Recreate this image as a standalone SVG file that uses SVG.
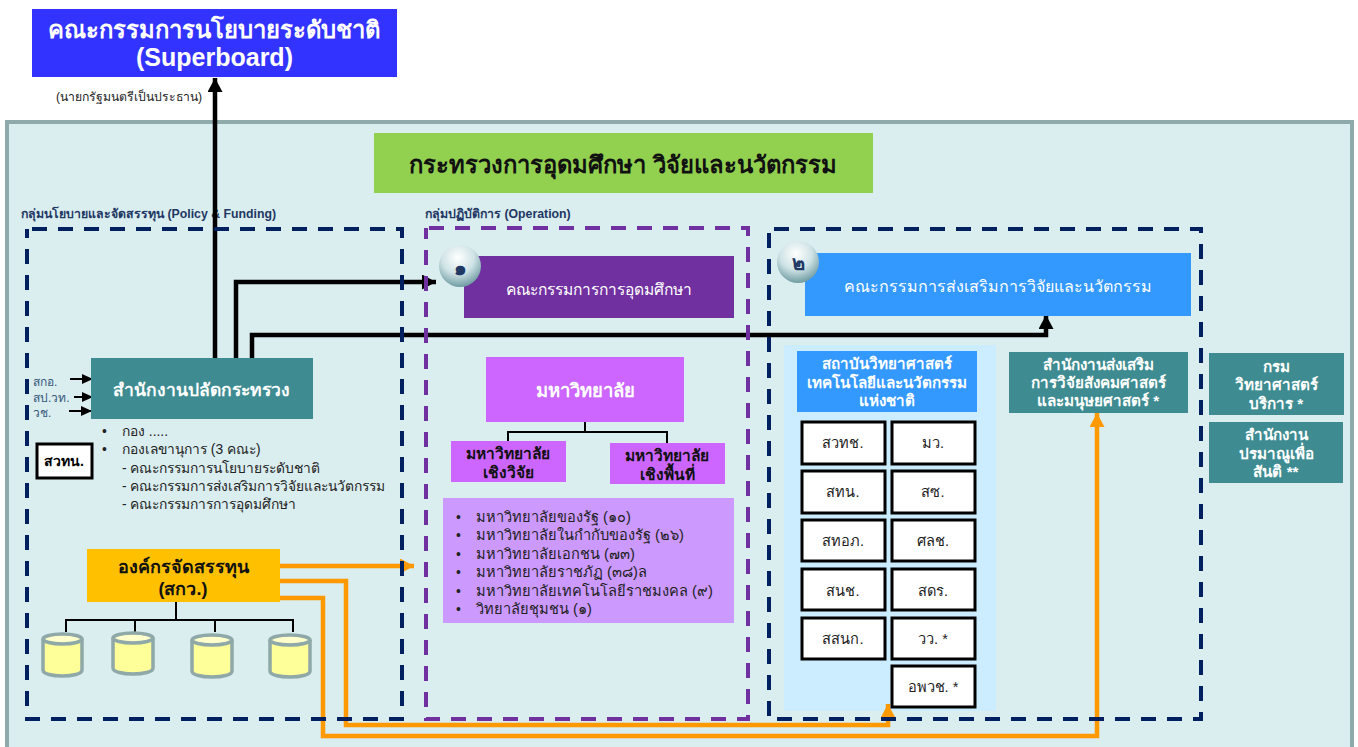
<svg xmlns="http://www.w3.org/2000/svg" width="1358" height="747" viewBox="0 0 1358 747">
<style>
text{font-family:"Liberation Sans","DejaVu Sans","Noto Sans",sans-serif;font-size:13.800px;fill:#222}
.c{text-anchor:middle}
.w{fill:#fff}
.b{font-weight:bold}
.g{fill:#1F3864;font-weight:bold;font-size:12.300px}
.d{fill:none;stroke-width:4;stroke-dasharray:15 11}
.k{fill:none;stroke:#000;stroke-width:4.5}
.o{fill:none;stroke:#FF9900;stroke-width:4.5}
.t{fill:none;stroke:#000;stroke-width:2}
.teal{fill:#3E8C92}
.cell{fill:#fff;stroke:#000;stroke-width:3}
.cyl{fill:#FFFF99;stroke:#8FA8A8;stroke-width:3.500}
.cap{fill:#FFFFCC}
.lst{font-size:14.600px}
.cc{font-size:14.600px}
.s{font-size:15.200px}
.sub{font-size:15.500px;fill:#111;font-weight:bold}
.lbl{font-size:12px;fill:#35597A}
.t1{font-size:23.800px}
</style>
<defs>
<marker id="ak" markerUnits="userSpaceOnUse" markerWidth="15" markerHeight="15" refX="14" refY="7.500" orient="auto"><path d="M0 0L14 7.500L0 15z" fill="#000"/></marker>
<marker id="as" markerUnits="userSpaceOnUse" markerWidth="12" markerHeight="12" refX="11" refY="5" orient="auto"><path d="M0 0L11 5L0 10z" fill="#000"/></marker>
<marker id="ao" markerUnits="userSpaceOnUse" markerWidth="15" markerHeight="15" refX="14" refY="7.500" orient="auto"><path d="M0 0L14 7.500L0 15z" fill="#FF9900"/></marker>
<radialGradient id="ball" cx="45%" cy="30%" r="70%"><stop offset="0" stop-color="#ffffff"/><stop offset=".55" stop-color="#CFE3E6"/><stop offset="1" stop-color="#6F9CA3"/></radialGradient>
</defs>
<rect width="1358" height="747" fill="#fff"/>
<rect x="7" y="122" width="1345" height="640" fill="#DAEDEF" stroke="#8FAAAA" stroke-width="4"/>
<g id="superboard"><rect x="32" y="9" width="365" height="68" fill="#3333FF"/><text class="c w b t1" x="214" y="38">คณะกรรมการนโยบายระดับชาติ</text><text class="c w b" x="214.500" y="66" style="font-size:25px">(Superboard)</text></g>
<text id="pm" x="56" y="101" style="font-size:12.200px">(นายกรัฐมนตรีเป็นประธาน)</text>
<g id="ministry"><rect x="374" y="133" width="499" height="60" fill="#92D050"/><text class="c b t1" x="623" y="173" style="fill:#111">กระทรวงการอุดมศึกษา วิจัยและนวัตกรรม</text></g>
<text id="label-policy" class="g" x="21" y="218">กลุ่มนโยบายและจัดสรรทุน (Policy &amp; Funding)</text>
<text id="label-operation" class="g" x="425" y="218">กลุ่มปฏิบัติการ (Operation)</text>
<rect id="institute-panel" x="784" y="345" width="212" height="366" fill="#CCECFF"/>
<g id="connectors">
<path class="k" marker-end="url(#ak)" d="M215 358V78"/>
<path class="k" marker-end="url(#ak)" d="M236 358V282H436"/>
<path class="k" marker-end="url(#ak)" d="M252 358V335H1046V315"/>
<path class="o" marker-end="url(#ao)" d="M280 566H414"/>
<path class="o" marker-end="url(#ao)" d="M280 581H346V725H888V704"/>
<path class="o" marker-end="url(#ao)" d="M280 598H323V736H1097V413"/>
<path class="t" marker-end="url(#as)" d="M70 379H93"/>
<path class="t" marker-end="url(#as)" d="M74 397H93"/>
<path class="t" marker-end="url(#as)" d="M69 411H92"/>
<path class="t" d="M176 602V619M66 632V620H293V632M135 620V632M215 620V632"/>
<path class="t" d="M585 422V432M508 442V432H667V443"/>
</g>
<path id="group-policy" class="d" stroke="#002060" d="M32 229H402V719H27V229"/>
<path id="group-operation" class="d" stroke="#7030A0" d="M429 228H748V719H426V228"/>
<path id="group-research" class="d" stroke="#002060" d="M774 229H1201V719H769V229"/>
<g id="permsec"><rect class="teal" x="91" y="358" width="222" height="61"/><text class="c w b" x="201" y="396" style="font-size:17.500px">สำนักงานปลัดกระทรวง</text></g>
<g id="side-labels"><text class="lbl" x="33" y="386">สกอ.</text><text class="lbl" x="33" y="402">สป.วท.</text><text class="lbl" x="33" y="417">วช.</text></g>
<g id="stn"><rect class="cell" x="37" y="444" width="55" height="34"/><text class="c b" x="64" y="466" style="font-size:14px;fill:#000">สวทน.</text></g>
<g id="divisions">
<text x="102" y="436">•</text><text x="122" y="436">กอง .....</text>
<text x="102" y="454">•</text><text x="122" y="454">กองเลขานุการ (3 คณะ)</text>
<text x="122" y="473">- คณะกรรมการนโยบายระดับชาติ</text>
<text x="122" y="491">- คณะกรรมการส่งเสริมการวิจัยและนวัตกรรม</text>
<text x="122" y="509">- คณะกรรมการการอุดมศึกษา</text>
</g>
<g id="funding"><rect x="87" y="549" width="193" height="53" fill="#FFC000"/><text class="c b" x="183" y="573" style="font-size:18px;fill:#111">องค์กรจัดสรรทุน</text><text class="c b" x="183" y="595" style="font-size:18px;fill:#111">(สกว.)</text></g>
<g id="cyl1"><path class="cyl" d="M43 639V670C43 678 82 678 82 670V639"/><ellipse class="cyl cap" cx="62.500" cy="639" rx="19.500" ry="5"/></g>
<g id="cyl2"><path class="cyl" d="M113 638V668C113 676 153 676 153 668V638"/><ellipse class="cyl cap" cx="133" cy="638" rx="20" ry="5"/></g>
<g id="cyl3"><path class="cyl" d="M192 640V671C192 679 232 679 232 671V640"/><ellipse class="cyl cap" cx="212" cy="640" rx="20" ry="5"/></g>
<g id="cyl4"><path class="cyl" d="M270 640V671C270 679 310 679 310 671V640"/><ellipse class="cyl cap" cx="290" cy="640" rx="20" ry="5"/></g>
<g id="ohec"><rect x="464" y="256" width="270" height="62" fill="#7030A0"/><text class="c w" x="599" y="295" style="font-size:15.600px">คณะกรรมการการอุดมศึกษา</text></g>
<g id="badge1"><circle cx="460" cy="266" r="21" fill="url(#ball)"/><text class="c b" x="460" y="275" style="font-size:20px;fill:#1F3864">๑</text></g>
<g id="univ"><rect x="486" y="357" width="198" height="65" fill="#CC66FF"/><text class="c w b" x="585" y="397" style="font-size:18.500px">มหาวิทยาลัย</text></g>
<g id="univ-research"><rect x="451" y="441" width="115" height="41" fill="#CC66FF"/><text class="c sub" x="508" y="459">มหาวิทยาลัย</text><text class="c sub" x="508" y="478">เชิงวิจัย</text></g>
<g id="univ-area"><rect x="610" y="443" width="115" height="41" fill="#CC66FF"/><text class="c sub" x="667" y="461">มหาวิทยาลัย</text><text class="c sub" x="667" y="480">เชิงพื้นที่</text></g>
<g id="univ-list"><rect x="443" y="498" width="291" height="125" fill="#CC99FF"/>
<text x="456" y="522">•</text><text class="lst" x="476" y="522">มหาวิทยาลัยของรัฐ (๑๐)</text>
<text x="456" y="540">•</text><text class="lst" x="476" y="540">มหาวิทยาลัยในกำกับของรัฐ (๒๖)</text>
<text x="456" y="559">•</text><text class="lst" x="476" y="559">มหาวิทยาลัยเอกชน (๗๓)</text>
<text x="456" y="577">•</text><text class="lst" x="476" y="577">มหาวิทยาลัยราชภัฏ (๓๘)ล</text>
<text x="456" y="596">•</text><text class="lst" x="476" y="596">มหาวิทยาลัยเทคโนโลยีราชมงคล (๙)</text>
<text x="456" y="614">•</text><text class="lst" x="476" y="614">วิทยาลัยชุมชน (๑)</text>
</g>
<g id="research-board"><rect x="805" y="253" width="386" height="63" fill="#3399FF"/><text class="c w" x="998" y="292" style="font-size:16px">คณะกรรมการส่งเสริมการวิจัยและนวัตกรรม</text></g>
<g id="badge2"><circle cx="798" cy="262" r="21" fill="url(#ball)"/><text class="c b" x="798" y="270" style="font-size:20px;fill:#1F3864">๒</text></g>
<g id="institute"><rect x="797" y="351" width="180" height="61" fill="#3399FF"/><text class="c w b s" x="887" y="369">สถาบันวิทยาศาสตร์</text><text class="c w b s" x="887" y="388">เทคโนโลยีและนวัตกรรม</text><text class="c w b s" x="887" y="406">แห่งชาติ</text></g>
<g id="n1"><rect class="cell" x="802" y="422" width="83" height="42"/><text class="c cc" x="843" y="448">สวทช.</text></g>
<g id="n2"><rect class="cell" x="892" y="422" width="83" height="42"/><text class="c cc" x="933" y="448">มว.</text></g>
<g id="n3"><rect class="cell" x="802" y="471" width="83" height="42"/><text class="c cc" x="843" y="497">สทน.</text></g>
<g id="n4"><rect class="cell" x="892" y="471" width="83" height="42"/><text class="c cc" x="933" y="497">สซ.</text></g>
<g id="n5"><rect class="cell" x="802" y="520" width="83" height="41"/><text class="c cc" x="843" y="546">สทอภ.</text></g>
<g id="n6"><rect class="cell" x="892" y="520" width="83" height="41"/><text class="c cc" x="933" y="546">ศลช.</text></g>
<g id="n7"><rect class="cell" x="802" y="569" width="83" height="41"/><text class="c cc" x="843" y="596">สนช.</text></g>
<g id="n8"><rect class="cell" x="892" y="569" width="83" height="41"/><text class="c cc" x="933" y="596">สดร.</text></g>
<g id="n9"><rect class="cell" x="802" y="618" width="83" height="41"/><text class="c cc" x="843" y="644">สสนก.</text></g>
<g id="n10"><rect class="cell" x="892" y="618" width="83" height="41"/><text class="c cc" x="933" y="644">วว. *</text></g>
<g id="n11"><rect class="cell" x="892" y="666" width="83" height="41"/><text class="c cc" x="933" y="692">อพวช. *</text></g>
<g id="tsri-social"><rect class="teal" x="1009" y="352" width="179" height="61"/><text class="c w b s" x="1098" y="370">สำนักงานส่งเสริม</text><text class="c w b s" x="1098" y="388">การวิจัยสังคมศาสตร์</text><text class="c w b s" x="1098" y="406">และมนุษยศาสตร์ *</text></g>
<g id="dss"><rect class="teal" x="1209" y="353" width="135" height="62"/><text class="c w b s" x="1276" y="372">กรม</text><text class="c w b s" x="1276" y="390">วิทยาศาสตร์</text><text class="c w b s" x="1276" y="409">บริการ *</text></g>
<g id="oap"><rect class="teal" x="1209" y="422" width="134" height="61"/><text class="c w b s" x="1276" y="440">สำนักงาน</text><text class="c w b s" x="1276" y="459">ปรมาณูเพื่อ</text><text class="c w b s" x="1276" y="477">สันติ **</text></g>
</svg>
